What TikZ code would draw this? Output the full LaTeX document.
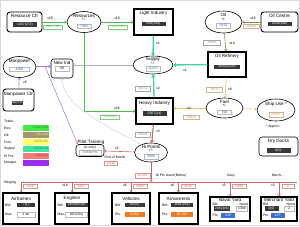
\documentclass[tikz,border=0pt]{standalone}
\usepackage{fontspec}
\setmainfont{Liberation Sans}
\usetikzlibrary{shapes.geometric,arrows.meta,positioning}

\definecolor{resgreen}{HTML}{4DB84D}
\definecolor{supteal}{HTML}{3ED89C}
\definecolor{oilbrown}{HTML}{9C7E55}
\definecolor{fueltan}{HTML}{E0BE78}
\definecolor{hipred}{HTML}{C46A68}
\definecolor{manpurple}{HTML}{B07CD8}
\definecolor{valdark}{HTML}{383838}
\definecolor{valblue}{HTML}{3355CC}
\definecolor{cvorange}{HTML}{EE7A22}
\definecolor{cvblue}{HTML}{3D6FD6}
\definecolor{totres}{HTML}{45E845}
\definecolor{totresT}{HTML}{1E8C1E}
\definecolor{totoil}{HTML}{A8946E}
\definecolor{totoilT}{HTML}{F2E6C8}
\definecolor{totfuel}{HTML}{FFFF66}
\definecolor{totfuelT}{HTML}{A89020}
\definecolor{totsup}{HTML}{3EE6A0}
\definecolor{totsupT}{HTML}{12865A}
\definecolor{tothip}{HTML}{F27C7C}
\definecolor{tothipT}{HTML}{C42828}
\definecolor{totman}{HTML}{9A2EF0}

\tikzset{
  ttl/.style={font=\fontsize{4.6}{5}\selectfont, inner sep=0pt},
  sml/.style={font=\fontsize{3.4}{4}\selectfont, inner sep=0pt},
  ctrbox/.style={draw, line width=0.9pt, rounded corners=3pt},
  indbox/.style={draw, line width=1.3pt},
  pool/.style={draw, ellipse, line width=0.6pt, inner sep=0pt},
  dval/.style={fill=valdark, text=white, font=\fontsize{3.4}{4}\selectfont, minimum height=4.8pt, inner sep=0.4pt},
  wval/.style={draw=gray!55, line width=0.3pt, fill=white, text=#1, font=\fontsize{3.4}{4}\selectfont, minimum height=4.5pt, inner sep=0.4pt},
  wval/.default=valblue,
  numtag/.style={draw=#1!70, line width=0.3pt, text=#1, font=\fontsize{3.2}{4}\selectfont, minimum height=4.5pt, inner sep=0.5pt},
  cval/.style={fill=#1, text=white, font=\fontsize{3.4}{4}\selectfont, minimum height=4.8pt, inner sep=0.4pt},
  feed/.style={-{Straight Barb[length=1.6pt,width=2.8pt]}, line width=0.6pt},
}

\begin{document}
\begin{tikzpicture}[x=1pt,y=-1pt]
\useasboundingbox (0,0) rectangle (300,226);
\draw[gray!30, line width=0.5pt] (0.5,0.5) rectangle (299.5,225.5);

% resources
\node[ctrbox, minimum width=35pt, minimum height=20pt] (resctr) at (24.5,22) {};
\node[ttl] (resctrT) at (24.5,16) {Resource Ctr};
\node[dval, minimum width=24pt] (resctrV) at (25,24.5) {1457(272)};
\node[pool, minimum width=34pt, minimum height=21pt] (res) at (84,22) {};
\node[ttl] (resT) at (84,15.5) {Resources};
\node[sml] (resPM) at (84,19.5) {+/-};
\node[wval, minimum width=14pt] (resV) at (84,26) {7459};
\draw[feed, resgreen] (resctr) -- (res);
\node[sml] (resctrX) at (50,18.5) {x29};
\node[numtag=resgreen, minimum width=19pt] (resctrN) at (52.5,27) {5287,740};

\node[indbox, minimum width=39pt, minimum height=26pt] (light) at (153.5,22) {};
\node[ttl] (lightT) at (153.5,13.5) {Light Industry};
\node[dval, minimum width=24pt] (lightV) at (153.5,24) {808(158)};
\draw[feed, resgreen] (res) -- (light);
\node[sml] (lightX) at (117,18.5) {x19};
\node[numtag=resgreen, minimum width=19pt] (lightN) at (118,27) {147,546};

% supply
\node[pool, minimum width=40pt, minimum height=18pt] (supply) at (153,65) {};
\node[ttl] (supplyT) at (153,59.5) {Supply};
\node[sml] (supplyPM) at (153,63) {+/-};
\node[wval=supteal!80!black, minimum width=14pt] (supplyV) at (153,68.5) {36926};
\draw[feed, supteal, line width=1.4pt] (light) -- (supply);
\node[sml] (lightSX) at (158,43.5) {x1};

% oil and fuel
\node[pool, minimum width=37pt, minimum height=22pt] (oil) at (223.5,22) {};
\node[ttl] (oilT) at (223.5,15) {Oil};
\node[sml] (oilPM) at (223.5,18.8) {+/-};
\node[wval, minimum width=14pt] (oilV) at (223.5,25.5) {5870};
\node[ctrbox, minimum width=37pt, minimum height=20pt] (oilctr) at (279.5,22) {};
\node[ttl] (oilctrT) at (279.5,15.5) {Oil Centre};
\node[dval, minimum width=24pt] (oilctrV) at (279.5,24) {2100(106)};
\draw[feed, oilbrown] (oilctr) -- (oil);
\node[sml] (oilctrX) at (253,18.5) {x16};
\node[numtag=fueltan!80!black, minimum width=16pt] (oilctrN) at (251.5,26) {21800};

\node[indbox, minimum width=38pt, minimum height=25pt] (refinery) at (227,64.5) {};
\node[ttl] (refineryT) at (227,56.5) {Oil Refinery};
\node[dval, minimum width=26pt] (refineryV) at (227,67) {4440(3220)};
\draw[feed, oilbrown] (oil) -- (refinery);
\node[sml] (oilX) at (232,43) {x10};
\node[numtag=gray, minimum width=17pt] (oilN) at (212,42.5) {5100};
\draw[feed, supteal, line width=1.4pt] (refinery) -- (supply);
\node[sml] (refineryX) at (185,70.5) {x1};

\node[pool, minimum width=37pt, minimum height=20pt] (fuel) at (224.5,108) {};
\node[ttl] (fuelT) at (224.5,101.5) {Fuel};
\node[sml] (fuelPM) at (224.5,105.3) {+/-};
\node[wval, minimum width=14pt] (fuelV) at (224.5,112) {398};
\draw[feed, fueltan] (refinery) -- (fuel);
\node[sml] (refineryFX) at (230,89.5) {x8};
\node[numtag=fueltan!80!black, minimum width=16pt] (refineryN) at (214.5,89.5) {3870};

\node[pool, minimum width=38pt, minimum height=22pt] (ship) at (276,110) {};
\node[ttl] (shipT) at (276,104.5) {Ship Use *};
\node[numtag=fueltan!80!black, minimum width=14pt] (shipV) at (276,114.5) {3400};
\draw[feed, fueltan] (fuel) -- (ship);
\node[sml] (approx) at (273,127) {* Approx.};

\node[ctrbox, line width=0.6pt, minimum width=39pt, minimum height=19pt] (docks) at (278.5,146.5) {};
\node[ttl] (docksT) at (278.5,141.5) {Dry Docks};
\node[dval, minimum width=24pt] (docksV) at (278.5,150.5) {8(0)};

% heavy industry
\node[indbox, minimum width=37pt, minimum height=26pt] (heavy) at (154.5,111) {};
\node[ttl] (heavyT) at (154.5,103) {Heavy Industry};
\node[dval, minimum width=24pt] (heavyV) at (154.5,113.5) {2567(14)};
\draw[feed, resgreen] (res.south) -- (res.south |- heavy.west) -- (heavy.west);
\node[sml] (resHX) at (117,108) {x26};
\node[numtag=resgreen, minimum width=19pt] (resHN) at (110,117) {147,546};
\draw[feed, supteal, line width=1.4pt] (heavy) -- (supply);
\node[sml] (heavySX) at (158,88) {x2};
\node[numtag=gray, minimum width=15pt] (heavySN) at (143,88.5) {3417a};
\draw[feed, fueltan] (fuel) -- (fuel.west -| heavy.east);
\node[sml] (fuelX) at (189,108) {x2};
\node[numtag=fueltan!80!black, minimum width=16pt] (fuelN) at (191.5,117) {84613};

% manpower
\node[pool, minimum width=33pt, minimum height=21pt] (man) at (19.5,67) {};
\node[ttl] (manT) at (19.5,61.5) {Manpower};
\node[wval, minimum width=20pt] (manV) at (19.5,69) {4200};
\node[ctrbox, minimum width=31pt, minimum height=22pt] (manctr) at (18.5,100) {};
\node[ttl] (manctrT) at (18.5,94) {Manpower Ctr};
\node[dval, minimum width=10pt] (manctrV) at (17.5,103) {40(13)};
\draw[feed, manpurple] (manctr) -- (man);
\node[sml] (manctrX) at (25,82.5) {x5};
\node[ctrbox, line width=0.6pt, minimum width=22pt, minimum height=19pt] (newind) at (62,68.5) {};
\node[ttl] (newindT) at (62,63) {New Ind};
\node[wval=black, minimum width=14pt] (newindV) at (62,68.5) {59};
\coordinate (mansplit) at (45,66.5);
\draw[feed, manpurple] (man.east |- mansplit) -- (mansplit) -- (newind.west |- mansplit);
\draw[gray!60, line width=0.4pt, -{Straight Barb[length=1.6pt,width=2.8pt]}] (supply) -- (supply.west -| newind.east);

% hi points
\node[pool, minimum width=33pt, minimum height=19pt] (hipts) at (151,152.5) {};
\node[ttl] (hiptsT) at (151,147) {Hi Points};
\node[sml] (hiptsPM) at (151,150.5) {+/-};
\node[wval, minimum width=14pt] (hiptsV) at (151,156.5) {3508};
\draw[feed, hipred, line width=1.1pt] (heavy) -- (hipts);
\node[sml] (heavyHX) at (158,131) {x3};
\node[numtag=gray, minimum width=15pt] (heavyHN) at (143,134.5) {54174};
\draw[gray!40, line width=0.4pt, -{Straight Barb[length=1.6pt,width=2.8pt]}] (hipts.140) .. controls (95,120) and (63,104) .. (newind.south);

\node[ctrbox, line width=0.6pt, minimum width=28pt, minimum height=12pt] (pilot) at (90,150.5) {};
\node[ttl] (pilotT) at (91,142) {Pilot Training};
\node[sml] (pilotU) at (90,147.5) {(U only)};
\node[wval=gray!70!black, minimum width=22pt] (pilotV) at (90,152.8) {71839 Pts};
\draw[feed, manpurple] (mansplit) -- ([xshift=2pt]pilot.north west);
\draw[feed, hipred] (hipts) -- (pilot);
\node[sml] (hiptsX) at (117,148.5) {x5};
\node[sml] (month) at (115,157) {First of Month};
\node[numtag=hipred, minimum width=13pt] (monthN) at (111,163) {50180};

% totals
\node[sml, anchor=west] (totT) at (4,121) {Totals:};
\foreach \k/\lab/\y/\fc/\tc/\val in {res/Res:/128/totres/totresT/{11,049,505}, oil/Oil:/135/totoil/totoilT/{831,000}, fuel/Fuel:/142/totfuel/totfuelT/{8,870,351}, sup/Supply:/149/totsup/totsupT/{8,970,274}, hip/Hi Pts:/156/tothip/tothipT/{4,908,892}, man/Manpwr:/163/totman/totman/{}}
{
	\node[sml, anchor=west] (tot\k L) at (4,\y) {\lab};
	\node[fill=\fc, text=\tc, font=\fontsize{3.2}{4}\selectfont, minimum height=5.6pt, text width=25pt, align=right, inner sep=0.5pt] (tot\k V) at (36,\y) {\val};
}

% factories
\foreach \n/\x/\w/\t in {air/21/36/Airframes, eng/72/34/Engines, veh/131/38/Vehicles, arm/178.5/39/Armaments}
{
	\node[indbox, minimum width=\w pt, minimum height=31pt] (\n) at (\x,208.5) {};
	\node[ttl] (\n T) at (\x,198.5) {\t};
}
\node[sml, anchor=west] (airB) at (5,205) {Bld:};
\node[dval, minimum width=18pt] (airBV) at (26,205) {7(1)};
\node[sml, anchor=west] (airM) at (5,214.5) {Max:};
\node[wval=black, minimum width=18pt] (airMV) at (26,214.5) {1 air};
\node[sml, anchor=west] (engB) at (57.5,205) {Bld:};
\node[dval, minimum width=22pt] (engBV) at (76.5,205) {24636(520)};
\node[sml, anchor=west] (engM) at (57.5,214.5) {Max:};
\node[wval=black, minimum width=22pt] (engMV) at (76.5,214.5) {80.0 B/q};
\node[sml, anchor=west] (vehB) at (115,205) {Bld:};
\node[dval, minimum width=20pt] (vehBV) at (134.5,205) {18(20)};
\node[sml, anchor=west] (vehP) at (115,214.5) {Pts:};
\node[cval=cvorange, minimum width=20pt] (vehPV) at (134.5,214.5) {9,950};
\node[sml, anchor=west] (armB) at (162,205) {Bld:};
\node[dval, minimum width=22pt] (armBV) at (182,205) {1001(201)};
\node[sml, anchor=west] (armP) at (162,214.5) {Pts:};
\node[cval=cvorange, minimum width=22pt] (armPV) at (182,214.5) {56,108};

\node[indbox, minimum width=40pt, minimum height=24pt] (nav) at (230,209) {};
\node[ttl] (navT) at (230,200) {Naval Yard};
\node[sml, anchor=west] (navB) at (212.5,203.8) {Bld};
\node[sml, anchor=east] (navN) at (248,203.8) {Need};
\node[dval, minimum width=16pt] (navBV) at (222,208.5) {2050(45)};
\node[wval=black, minimum width=11pt] (navNV) at (242,208.5) {1304};
\node[sml, anchor=west] (navP) at (212.5,215.5) {Pts:};
\node[cval=cvblue, minimum width=14pt] (navPV) at (228,215.5) {319};
\node[indbox, minimum width=36pt, minimum height=24pt] (mer) at (279,209) {};
\node[ttl] (merT) at (279,200) {Merchant Yard};
\node[sml, anchor=west] (merB) at (263,203.8) {Bld};
\node[sml, anchor=east] (merN) at (295,203.8) {Need};
\node[dval, minimum width=14pt] (merBV) at (271.5,208.5) {0(0)};
\node[wval=black, minimum width=10pt] (merNV) at (289,208.5) {2};
\node[sml, anchor=west] (merP) at (263,215.5) {Pts:};
\node[cval=cvblue, minimum width=14pt] (merPV) at (277.5,215.5) {227};

% hi points bus
\coordinate (busL) at (21,182);
\coordinate (busR) at (297,182);
\coordinate (busM) at (151,182);
\draw[hipred, line width=0.6pt] (busL) -- (busR);
\draw[feed, hipred] (hipts) -- (busM);
\foreach \n in {air,eng,veh,arm,nav,mer}
{
	\draw[feed, hipred] (\n.north |- busL) -- (\n.north);
}
\node[sml] (sling) at (10,183) {Slinging};
\node[numtag=hipred, minimum width=15pt] (usedN) at (142.5,175.5) {16,655};
\node[sml] (used) at (171,176) {Hi Pts Used (Below)};
\node[numtag=hipred, minimum width=14pt] (airN) at (30,186) {1448};
\node[sml] (engX) at (65,185) {x16};
\node[numtag=hipred, minimum width=14pt] (engN) at (81,186) {1440};
\node[sml] (vehX) at (125,185) {x6};
\node[numtag=hipred, minimum width=14pt] (vehN) at (140,186) {5080};
\node[sml] (armX) at (172.5,185) {x6};
\node[numtag=hipred, minimum width=14pt] (armN) at (188,186) {3500};
\node[sml] (navy) at (231,175.5) {Navy};
\node[sml] (navX) at (224,185) {x3};
\node[numtag=hipred, minimum width=14pt] (navN2) at (239.5,186) {5656};
\node[sml] (merch) at (278,175.5) {Merch...};
\node[sml] (merX) at (273,185) {x3};
\node[numtag=hipred, minimum width=12pt] (merN2) at (288,186) {0};
\end{tikzpicture}
\end{document}
